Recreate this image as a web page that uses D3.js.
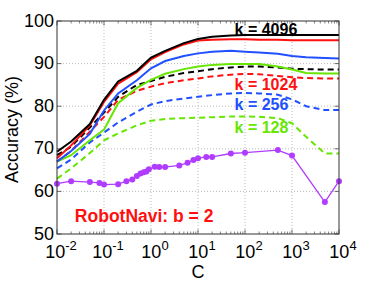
<!DOCTYPE html>
<html><head><meta charset="utf-8">
<script src="https://cdn.jsdelivr.net/npm/d3@7"></script>
<style>body{margin:0;background:#fff}svg{display:block;font-family:"Liberation Sans",Arial,Helvetica,sans-serif}</style>
</head><body><svg id="c" width="374" height="281"></svg>
<script>
const C = [0.01,0.02,0.05,0.1,0.2,0.5,1,2,5,10,20,50,100,200,500,1000,2000,5000,10000];
const blackSolid = [69.3,71.7,75.8,81.5,85.8,88.3,91.4,93.0,94.8,95.8,96.3,96.6,96.7,96.7,96.7,96.7,96.7,96.7,96.7];
const redSolid   = [67.8,70.8,75.5,81.0,85.3,88.0,91.0,92.7,94.5,95.4,95.6,95.7,95.7,95.6,95.6,95.5,95.5,95.5,95.5];
const blueSolid  = [67.0,69.5,73.5,79.0,83.0,86.1,88.9,90.6,91.8,92.4,92.8,93.0,92.8,92.6,92.3,91.8,91.5,91.3,91.2];
const greenSolid = [67.0,68.5,72.0,74.5,80.7,84.3,86.2,87.6,88.7,89.3,89.7,89.9,89.9,89.9,89.3,88.6,87.8,87.7,87.7];
const blackDashed= [68.5,70.5,75.0,78.5,82.2,85.0,85.9,86.9,87.8,88.2,88.7,89.1,89.3,89.3,89.1,88.8,88.7,88.6,88.6];
const redDashed  = [67.0,69.5,74.0,77.5,81.5,83.6,84.6,85.4,86.1,86.5,87.0,87.4,87.6,87.5,87.1,86.8,86.6,86.5,86.5];
const blueDashed = [65.4,67.5,71.5,73.8,76.2,78.7,80.4,81.2,81.8,82.2,82.6,83.0,83.1,83.0,82.7,81.6,80.0,79.1,79.1];
const greenDashed= [63.0,65.4,69.0,72.0,73.6,75.5,76.6,77.0,77.2,77.3,77.4,77.6,77.6,77.5,77.2,76.0,72.8,68.9,68.9];
const purpleC = [0.01,0.02,0.05,0.08,0.1,0.2,0.3,0.4,0.5,0.6,0.7,0.8,0.9,1.2,1.5,2,4,6,8,10,15,20,50,100,500,1000,5000,10000];
const purpleVals = [61.8,62.4,62.2,62.0,61.6,61.7,62.4,62.8,63.6,64.2,64.5,64.7,65.2,65.8,65.7,65.7,66.1,66.7,67.4,67.8,68.1,68.1,68.9,69.1,69.7,68.4,57.5,62.4];
const xTicks = [1e-2,1e-1,1e0,1e1,1e2,1e3,1e4];
const xTickExp = ["-2","-1","0","1","2","3","4"];
const yTicks = [50,60,70,80,90,100];
const kLabels = [
  {text:"k = 4096", c:60, v:96.7, color:"#000000"},
  {text:"k = 1024", c:60, v:83.8, color:"#ff1010"},
  {text:"k = 256",  c:60, v:79.1, color:"#2050ff"},
  {text:"k = 128",  c:60, v:73.7, color:"#66e600"}
];
const seriesList = [
  {vals:greenDashed, color:"#66e600", dash:true},
  {vals:blueDashed, color:"#2050ff", dash:true},
  {vals:redDashed, color:"#ff1010", dash:true},
  {vals:blackDashed, color:"#000000", dash:true},
  {vals:greenSolid, color:"#66e600", dash:false},
  {vals:blueSolid, color:"#2050ff", dash:false},
  {vals:redSolid, color:"#ff1010", dash:false},
  {vals:blackSolid, color:"#000000", dash:false}
];

const svg = d3.select("#c");
const L=57,R=339,T=21,B=234;
const x = d3.scaleLog().domain([1e-2,1e4]).range([L,R]);
const y = d3.scaleLinear().domain([50,100]).range([B,T]);

// grid
const g = svg.append("g");
xTicks.forEach(t=>{ if(t>1e-2&&t<1e4) g.append("line").attr("x1",x(t)).attr("x2",x(t)).attr("y1",T).attr("y2",B)
  .attr("stroke","#aaa").attr("stroke-width",0.8).attr("stroke-dasharray","1,2"); });
yTicks.forEach(t=>{ if(t>50&&t<100) g.append("line").attr("x1",L).attr("x2",R).attr("y1",y(t)).attr("y2",y(t))
  .attr("stroke","#aaa").attr("stroke-width",0.8).attr("stroke-dasharray","1,2"); });

// minor ticks
const minors=[];
for(let e=-2;e<4;e++) for(let m=2;m<10;m++) minors.push(m*Math.pow(10,e));
minors.forEach(t=>{
  g.append("line").attr("x1",x(t)).attr("x2",x(t)).attr("y1",B).attr("y2",B-2.5).attr("stroke","#333").attr("stroke-width",0.6);
  g.append("line").attr("x1",x(t)).attr("x2",x(t)).attr("y1",T).attr("y2",T+2.5).attr("stroke","#333").attr("stroke-width",0.6);
});
xTicks.forEach(t=>{
  g.append("line").attr("x1",x(t)).attr("x2",x(t)).attr("y1",B).attr("y2",B-4.5).attr("stroke","#333").attr("stroke-width",0.7);
  g.append("line").attr("x1",x(t)).attr("x2",x(t)).attr("y1",T).attr("y2",T+4.5).attr("stroke","#333").attr("stroke-width",0.7);
});
yTicks.forEach(t=>{
  g.append("line").attr("x1",L).attr("x2",L+4.5).attr("y1",y(t)).attr("y2",y(t)).attr("stroke","#333").attr("stroke-width",0.7);
  g.append("line").attr("x1",R).attr("x2",R-4.5).attr("y1",y(t)).attr("y2",y(t)).attr("stroke","#333").attr("stroke-width",0.7);
});

// lines
const line = d3.line().x(d=>x(d[0])).y(d=>y(d[1]));
seriesList.forEach(s=>{
  svg.append("path").datum(C.map((c,i)=>[c,s.vals[i]])).attr("d",line)
    .attr("fill","none").attr("stroke",s.color).attr("stroke-width",2)
    .attr("stroke-dasharray",s.dash?"6,4":null);
});
const pdata = purpleC.map((c,i)=>[c,purpleVals[i]]);
svg.append("path").datum(pdata).attr("d",line).attr("fill","none").attr("stroke","#b03cff").attr("stroke-width",1.3);
svg.selectAll("circle.p").data(pdata).enter().append("circle").attr("cx",d=>x(d[0])).attr("cy",d=>y(d[1])).attr("r",3).attr("fill","#b03cff");

// frame
svg.append("rect").attr("x",L).attr("y",T).attr("width",R-L).attr("height",B-T).attr("fill","none").attr("stroke","#333").attr("stroke-width",1);

// tick labels
yTicks.forEach(t=>{
  svg.append("text").attr("x",L-3).attr("y",y(t)+5.5).attr("text-anchor","end").attr("font-size",18).text(t);
});
xTicks.forEach((t,i)=>{
  const tx = svg.append("text").attr("x",x(t)+4).attr("y",258).attr("text-anchor","middle").attr("font-size",18);
  tx.append("tspan").text("10");
  tx.append("tspan").attr("dy",-8).attr("font-size",13).text(xTickExp[i]);
});
svg.append("text").attr("x",(L+R)/2).attr("y",278).attr("text-anchor","middle").attr("font-size",18).text("C");
svg.append("text").attr("transform",`translate(18,${(T+B)/2+2}) rotate(-90)`).attr("text-anchor","middle").attr("font-size",18).text("Accuracy (%)");

// k labels
kLabels.forEach(k=>{
  svg.append("text").attr("x",x(k.c)).attr("y",y(k.v)).attr("font-size",16).attr("font-weight","bold").attr("fill",k.color).text(k.text);
});
svg.append("text").attr("x",x(0.024)).attr("y",y(52.8)).attr("font-size",17.5).attr("font-weight","bold").attr("fill","#ff1010").text("RobotNavi: b = 2");
</script></body></html>
